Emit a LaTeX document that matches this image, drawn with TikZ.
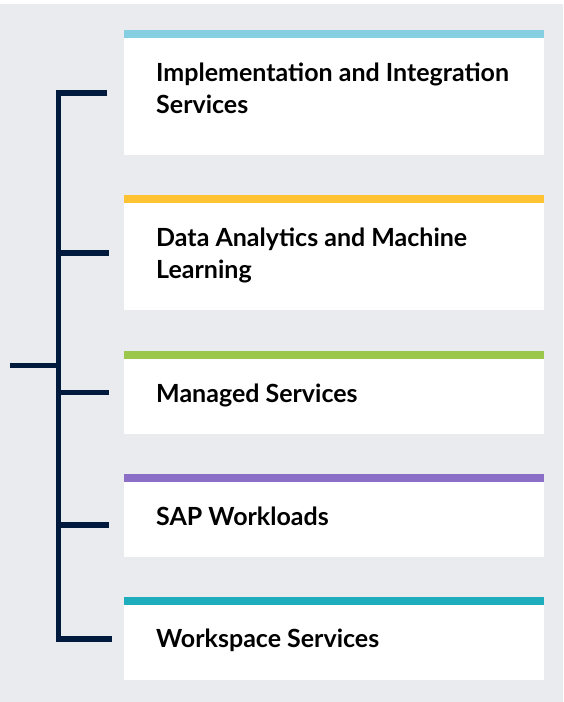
\documentclass[tikz,border=0pt]{standalone}
\usepackage{fontspec}
\setmainfont{Lato}
\definecolor{bg}{HTML}{E9EBEF}
\definecolor{navy}{HTML}{001A3D}
\definecolor{cblue}{HTML}{86CFE3}
\definecolor{cyellow}{HTML}{FFC233}
\definecolor{cgreen}{HTML}{9BC84A}
\definecolor{cpurple}{HTML}{8B6FC6}
\definecolor{cteal}{HTML}{1DADBD}
\begin{document}
\begin{tikzpicture}[x=1pt,y=-1pt,
  lbl/.style={anchor=base west,inner sep=0pt,font=\fontsize{25}{32}\selectfont\bfseries,text=black,align=left},
  tree/.style={draw=navy,line width=5.5pt}]
\useasboundingbox (0,0) rectangle (563,702);
\fill[white] (0,0) rectangle (563,4);
\fill[bg] (0,4) rectangle (563,702);
% cards
\foreach \t/\b/\c in {30/155/cblue,195/310/cyellow,351/434/cgreen,474/557/cpurple,597/680/cteal}{
  \fill[white] (124,\t) rectangle (544,\b);
  \fill[\c] (124,\t) rectangle (544,\t+8);
}
\node[lbl] (t1) at (156,113) {Implementation and Integration\\Services};
\node[lbl] (t2) at (156,278) {Data Analytics and Machine\\Learning};
\node[lbl] (t3) at (156,402) {Managed Services};
\node[lbl] (t4) at (156,525) {SAP Workloads};
\node[lbl] (t5) at (156,647) {Workspace Services};
% tree
\coordinate (root) at (10,365.5);
\coordinate (top) at (58.5,93);
\coordinate (bot) at (58.5,639);
\coordinate (e1) at (107,93);
\coordinate (e2) at (109,253);
\coordinate (e3) at (109,392.5);
\coordinate (e4) at (109,525);
\coordinate (e5) at (112,639);
\draw[tree] (e1) -- (top) -- (bot) -- (e5);
\draw[tree] (root) -- (58.5,365.5);
\draw[tree] (58.5,253) -- (e2);
\draw[tree] (58.5,392.5) -- (e3);
\draw[tree] (58.5,525) -- (e4);
\end{tikzpicture}
\end{document}
